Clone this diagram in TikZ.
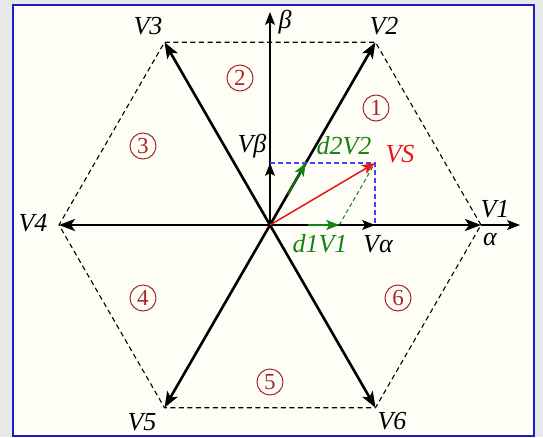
\documentclass[tikz,border=0pt]{standalone}
\usepackage{fontspec}
\setmainfont{Liberation Serif}
\usetikzlibrary{positioning, arrows.meta, calc, backgrounds}

\definecolor{frameblue}{RGB}{30,30,200}
\definecolor{paper}{RGB}{254,254,246}
\definecolor{outside}{RGB}{232,232,232}
\definecolor{sectred}{RGB}{165,40,40}
\definecolor{vgreen}{RGB}{20,130,20}
\definecolor{vred}{RGB}{235,20,20}

\begin{document}
\begin{tikzpicture}[
    x=1pt, y=1pt,
    vec/.style={line width=2.6pt, -{Stealth[length=16pt, width=12pt, inset=4pt]}},
    axis/.style={line width=1.1pt, -{Stealth[length=13pt, width=10pt, inset=3pt]}},
    hexedge/.style={line width=1.1pt, dash pattern=on 5pt off 3.5pt},
    comp/.style={blue!75, line width=1.1pt, dash pattern=on 5pt off 3pt},
    redvec/.style={vred, line width=1.5pt, -{Stealth[length=13pt, width=10pt, inset=3pt]}},
    grnvec/.style={vgreen, line width=1.5pt, -{Stealth[length=13pt, width=10pt, inset=3pt]}},
    grnaux/.style={vgreen, line width=1pt, dash pattern=on 4pt off 3pt},
    lbl/.style={font=\fontsize{26}{28}\selectfont\itshape, inner sep=0pt},
    sector/.style={draw=sectred, text=sectred, circle, line width=1pt,
                   minimum size=26pt, inner sep=0pt,
                   font=\fontsize{23}{23}\selectfont},
]

% ============================ canvas ====================================
\useasboundingbox (-270,-212) rectangle (273,225);
\fill[outside] (-270,-212) rectangle (273,225);
\draw[frameblue, fill=paper, line width=2pt] (-257,-211) rectangle (264,220);

% ============================ vertices ==================================
\coordinate (O) at (0,0);
\foreach \i in {1,...,6}
  \coordinate (V\i) at ({60*(\i-1)}:211);
\coordinate (atip) at (250,0);
\coordinate (btip) at (0,213);
\coordinate (vb) at (0,62);
\coordinate (va) at (105,0);
\coordinate (vs) at (105,62);
\coordinate (d2) at (35.8,62);
\coordinate (d1) at (69.2,0);

% ============================ hexagon + axes ============================
\draw[hexedge] (V1) -- (V2) -- (V3) -- (V4) -- (V5) -- (V6) -- cycle;
\draw[axis] (O) -- (btip);
\draw[axis] (V1) -- (atip);
\foreach \i in {1,...,6}
  \draw[vec] (O) -- (V\i);

% ============================ components ================================
\draw[comp] (vb) -- (vs) -- (va);
\draw[axis] (O) -- (vb);
\draw[axis] (O) -- (va);
\draw[grnaux] (d1) -- (vs);
\draw[grnvec] ($(O)!0.5!(d2)$) -- (d2);
\draw[grnvec] ($(O)!0.55!(d1)$) -- (d1);
\draw[redvec] (O) -- (vs);

% ============================ labels ====================================
\node[lbl] (lv1) at (225,16) {V1};
\node[lbl] (lv2) at (114,199) {V2};
\node[lbl] (lv3) at (-122,199) {V3};
\node[lbl] (lv4) at (-237,2) {V4};
\node[lbl] (lv5) at (-128,-197) {V5};
\node[lbl] (lv6) at (122,-196) {V6};
\node[lbl] (lal) at (220,-14) {α};
\node[lbl] (lbe) at (15,203) {β};
\node[lbl] (lvb) at (-18,79) {Vβ};
\node[lbl] (lva) at (108,-19) {Vα};
\node[lbl, text=vgreen] (ld2) at (74,79) {d2V2};
\node[lbl, text=vgreen] (ld1) at (50,-19) {d1V1};
\node[lbl, text=vred] (lvs) at (130,71) {VS};

% ============================ sectors ===================================
\node[sector] (s1) at (106,117) {1};
\node[sector] (s2) at (-30,147) {2};
\node[sector] (s3) at (-127,79) {3};
\node[sector] (s4) at (-127,-73) {4};
\node[sector] (s5) at (0,-157) {5};
\node[sector] (s6) at (128,-73) {6};

\end{tikzpicture}
\end{document}
